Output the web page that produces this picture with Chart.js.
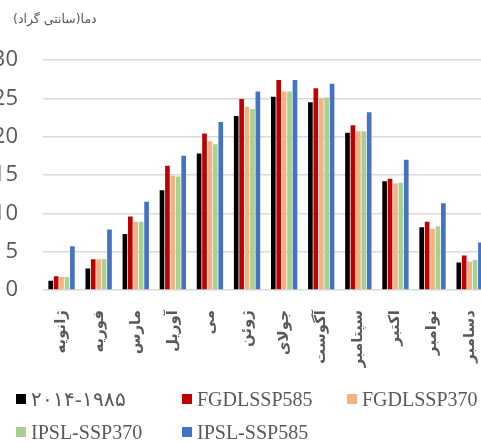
<!DOCTYPE html>
<html lang="fa">
<head>
<meta charset="utf-8">
<script src="https://cdn.jsdelivr.net/npm/chart.js@4.4.1/dist/chart.umd.min.js"></script>
<style>
  html, body { margin: 0; padding: 0; background: #fff; overflow: hidden; }
  body { width: 481px; height: 442px; position: relative; }
  #quadro { position: absolute; left: -15px; top: 0; width: 515px; height: 442px; }
  #titulo { position: absolute; left: 13px; top: 11px; font: 12.5px 'DejaVu Sans', sans-serif; color: #595959; white-space: nowrap; }
  .item { position: absolute; display: flex; align-items: center; font: 20px 'Liberation Serif', serif; color: #595959; white-space: nowrap; height: 24px; }
  .item .caixa { width: 10px; height: 10px; margin-right: 5px; flex: none; }
</style>
</head>
<body>
<div id="quadro"><canvas id="grafico"></canvas></div>
<div id="titulo" dir="ltr">(<bdi>سانتی گراد</bdi>)<bdi>دما</bdi></div>
<div id="legenda"></div>
<script>
// Dados
const meses = ['ژانویه', 'فوریه', 'مارس', 'آوریل', 'می', 'ژوئن', 'جولای', 'آگوست', 'سپتامبر', 'اکتبر', 'نوامبر', 'دسامبر'];
const base = [1.2, 2.8, 7.3, 13.0, 17.8, 22.7, 25.2, 24.5, 20.5, 14.2, 8.2, 3.6];
const fgdl585 = [1.8, 4.0, 9.6, 16.2, 20.4, 24.9, 27.4, 26.3, 21.5, 14.5, 8.9, 4.5];
const fgdl370 = [1.7, 4.0, 8.9, 14.9, 19.4, 23.9, 25.9, 25.0, 20.7, 13.9, 8.0, 3.7];
const ipsl370 = [1.7, 4.0, 8.9, 14.8, 19.0, 23.6, 25.9, 25.1, 20.7, 14.0, 8.3, 3.9];
const ipsl585 = [5.7, 7.9, 11.5, 17.5, 21.9, 25.9, 27.4, 26.9, 23.2, 17.0, 11.3, 6.2];
const series = ['۲۰۱۴-۱۹۸۵', 'FGDLSSP585', 'FGDLSSP370', 'IPSL-SSP370', 'IPSL-SSP585'];
const eixoY = [0, 5, 10, 15, 20, 25, 30];

const cores = ['#000000', '#C00000', '#F4B183', '#A9D18E', '#4472C4'];
const valores = [base, fgdl585, fgdl370, ipsl370, ipsl585];

const ctx = document.getElementById('grafico').getContext('2d');
const grafico = new Chart(ctx, {
    type: 'bar',
    data: {
        labels: meses,
        datasets: series.map((nome, i) => ({
            label: nome,
            data: valores[i],
            backgroundColor: cores[i],
            borderWidth: 0,
            categoryPercentage: 0.73,
            barPercentage: 0.86
        }))
    },
    options: {
        responsive: true,
        maintainAspectRatio: false,
        animation: false,
        layout: { padding: { top: 60, right: 9, left: 0, bottom: 0 } },
        plugins: {
            legend: { display: false },
            tooltip: { enabled: false }
        },
        scales: {
            x: {
                grid: { display: false },
                border: { display: false },
                ticks: {
                    autoSkip: false,
                    minRotation: 90,
                    maxRotation: 90,
                    padding: 12,
                    color: '#595959',
                    font: { family: "'DejaVu Sans', sans-serif", size: 15, weight: 'bold' }
                },
                afterFit: (escala) => { escala.height = 152; }
            },
            y: {
                min: eixoY[0],
                max: eixoY[eixoY.length - 1],
                grid: { color: '#D9D9D9', lineWidth: 1.5, drawTicks: false },
                border: { display: false },
                ticks: {
                    stepSize: eixoY[1] - eixoY[0],
                    padding: 25,
                    color: '#595959',
                    font: { family: "'Open Sans', sans-serif", size: 22 }
                },
                afterFit: (escala) => { escala.width = 58; }
            }
        }
    }
});

// Legenda em grade (3 colunas)
const legenda = document.getElementById('legenda');
const colunasX = [16, 182, 347];
const linhasY = [399, 432];
grafico.data.datasets.forEach((ds, i) => {
    const item = document.createElement('div');
    item.className = 'item';
    item.style.left = colunasX[i % 3] + 'px';
    item.style.top = (linhasY[Math.floor(i / 3)] - 12) + 'px';
    item.innerHTML = `<span class="caixa" style="background:${ds.backgroundColor}"></span><span>${ds.label}</span>`;
    legenda.appendChild(item);
});
</script>
</body>
</html>
